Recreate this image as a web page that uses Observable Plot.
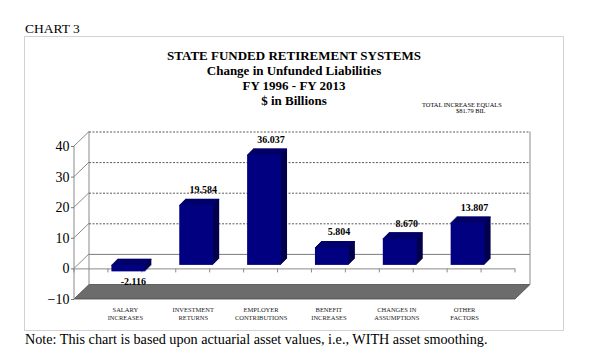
<!DOCTYPE html>
<html><head><meta charset="utf-8">
<script src="https://cdn.jsdelivr.net/npm/d3@7"></script>
<script src="https://cdn.jsdelivr.net/npm/@observablehq/plot@0.6"></script>
<style>
body{margin:0;background:#fff;width:602px;height:358px;position:relative;overflow:hidden;font-family:"Liberation Serif","Times New Roman",serif;color:#000}
.abs{position:absolute;white-space:nowrap;line-height:1}
#frame{position:absolute;left:24px;top:36px;width:540px;height:295px;box-sizing:border-box;border:1px solid #d2d2d2}
.t{position:absolute;left:24px;width:540px;text-align:center;font-weight:bold;font-size:13px;line-height:15px;white-space:nowrap}
#chart{position:absolute;left:0;top:115px}
</style></head><body>
<div class="abs" style="left:25px;top:22px;font-size:13.5px">CHART 3</div>
<div id="frame"></div>
<div class="t" style="top:48px">STATE FUNDED RETIREMENT SYSTEMS</div>
<div class="t" style="top:63px">Change in Unfunded Liabilities</div>
<div class="t" style="top:78px">FY 1996 - FY 2013</div>
<div class="t" style="top:93px">$ in Billions</div>
<div class="abs" style="left:422px;top:102px;font-size:6.4px">TOTAL INCREASE EQUALS</div>
<div class="abs" style="left:456px;top:108px;font-size:6.4px">$81.79 BIL</div>
<div id="chart"></div>
<div class="abs" style="left:25px;top:332px;font-size:14.2px">Note: This chart is based upon actuarial asset values, i.e., WITH asset smoothing.</div>
<script>
const categories = ["SALARY INCREASES","INVESTMENT RETURNS","EMPLOYER CONTRIBUTIONS","BENEFIT INCREASES","CHANGES IN ASSUMPTIONS","OTHER FACTORS"];
const tickLabels = ["SALARY\nINCREASES","INVESTMENT\nRETURNS","EMPLOYER\nCONTRIBUTIONS","BENEFIT\nINCREASES","CHANGES IN\nASSUMPTIONS","OTHER\nFACTORS"];
const values = [-2.116, 19.584, 36.037, 5.804, 8.670, 13.807];
const valueLabels = ["-2.116","19.584","36.037","5.804","8.670","13.807"];
const yTicks = [-10, 0, 10, 20, 30, 40];
const gridLevels = [10, 20, 30, 40];
const wallLevels = [0, 10, 20, 30, 40];

const data = categories.map((c, i) => ({cat: c, value: values[i], label: valueLabels[i]}));
const tickLabelOf = new Map(categories.map((c, i) => [c, tickLabels[i]]));

const SERIF = "'Liberation Serif', 'Times New Roman', serif";
const FRONT = 3.5, DEPTH = 6, WDX = 15, WDY = -14.5;
const navy = "#000080", sideC = "#00004c", topC = "#00006a";

function walls(index, scales, values, dims) {
  const x = scales.x, y = scales.y;
  const L = dims.marginLeft, R = dims.width - dims.marginRight;
  const g = d3.create("svg:g").attr("fill", "none");
  const yTop = y(d3.max(yTicks)), yBot = y(d3.min(yTicks));
  g.append("polygon")
    .attr("points", [[L, yBot], [R, yBot], [R + WDX, yBot + WDY], [L + WDX, yBot + WDY]].map(p => p.join(",")).join(" "))
    .attr("fill", "#6c6c6c").attr("stroke", "#4a4a4a").attr("stroke-width", 0.8);
  for (const xx of [L + WDX, R + WDX]) {
    g.append("line").attr("x1", xx).attr("x2", xx).attr("y1", yTop + WDY).attr("y2", yBot + WDY)
      .attr("stroke", "#8a8a8a");
  }
  for (const v of wallLevels) {
    g.append("line").attr("x1", L).attr("y1", y(v)).attr("x2", L + WDX).attr("y2", y(v) + WDY)
      .attr("stroke", "#8a8a8a");
  }
  g.append("line").attr("x1", L).attr("x2", L).attr("y1", yTop).attr("y2", yBot).attr("stroke", "#8a8a8a");
  return g.node();
}

function zeroTicks(index, scales, values, dims) {
  const x = scales.x, y = scales.y;
  const L = dims.marginLeft, R = dims.width - dims.marginRight;
  const bw = x.bandwidth();
  const edges = [L, ...categories.flatMap(c => [x(c), x(c) + bw]), R];
  const g = d3.create("svg:g").attr("stroke", "#8a8a8a");
  for (const e of edges) g.append("line").attr("x1", e).attr("x2", e).attr("y1", y(0)).attr("y2", y(0) + 4);
  return g.node();
}

const extrude = [];
for (let k = DEPTH; k >= 1; k--) {
  extrude.push(Plot.barY(data, {x: "cat", y: "value", fill: sideC, dx: FRONT + k, dy: -FRONT - k}));
}
for (let k = DEPTH; k >= 0; k--) {
  extrude.push(Plot.tickY(data, {x: "cat", y: d => Math.max(0, d.value), stroke: topC, strokeWidth: 1.2, dx: FRONT + k, dy: -FRONT - k}));
}

const chart = Plot.plot({
  width: 602, height: 215,
  marginLeft: 74, marginRight: 87, marginTop: 31, marginBottom: 31,
  style: {background: "transparent", fontFamily: SERIF, overflow: "visible"},
  x: {type: "band", domain: categories, padding: 0.5, round: false, axis: null},
  y: {domain: [-10, 40], axis: null},
  marks: [
    walls,
    Plot.ruleY(gridLevels, {stroke: "#5a5a5a", strokeDasharray: "2,1.5", dx: WDX, dy: WDY}),
    Plot.ruleY([0], {stroke: "#7a7a7a", dx: WDX, dy: WDY}),
    Plot.ruleY([0], {stroke: "#8a8a8a"}),
    zeroTicks,
    ...extrude,
    Plot.barY(data, {x: "cat", y: "value", fill: navy, dx: FRONT, dy: -FRONT}),
    Plot.axisY({ticks: yTicks, tickSize: 3, tickPadding: 2, fontSize: 14, fontFamily: SERIF, stroke: "#777", fill: "#000", label: null}),
    Plot.axisX({tickSize: 0, tickPadding: 7, fontSize: 6.5, lineHeight: 1.2, fontFamily: SERIF, tickFormat: d => tickLabelOf.get(d), fill: "#222", label: null}),
    Plot.text(data.filter(d => d.value >= 0), {x: "cat", y: "value", text: "label", dx: 10, dy: -19, fontWeight: "bold", fontSize: 10, fontFamily: SERIF, fill: "#000"}),
    Plot.text(data.filter(d => d.value < 0), {x: "cat", y: "value", text: "label", dx: 8, dy: 6, fontWeight: "bold", fontSize: 10, fontFamily: SERIF, fill: "#000"})
  ]
});
document.getElementById("chart").appendChild(chart);
</script>
</body></html>
